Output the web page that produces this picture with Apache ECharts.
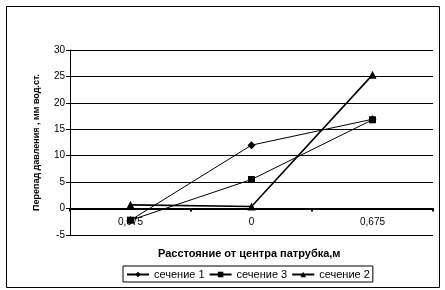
<!DOCTYPE html>
<html>
<head>
<meta charset="utf-8">
<script src="https://cdn.jsdelivr.net/npm/echarts@6/dist/echarts.min.js"></script>
<style>html,body{margin:0;padding:0;background:#fff}#c{width:445px;height:290px}</style>
</head>
<body>
<div id="c"></div>
<script>
var categories = ["0,675", "0", "0,675"];
var sec1 = [-2.2, 12, 16.9];
var sec3 = [-2.2, 5.5, 16.8];
var sec2 = [0.7, 0.4, 25.3];
var yTicks = [-5, 0, 5, 10, 15, 20, 25, 30];
var seriesNames = ["сечение 1", "сечение 3", "сечение 2"];
var xTitle = 'Расстояние от центра патрубка,м';
var yTitle = 'Перепад давления , мм вод.ст.';

var chart = echarts.init(document.getElementById('c'), null, {renderer: 'canvas'});
var font = 'Arial, "Liberation Sans", sans-serif';
var gridTop = 50, gridBottom = 55, H = 290;
var plotH = H - gridTop - gridBottom;
var yMin = yTicks[0], yMax = yTicks[yTicks.length - 1];
var zeroOffset = -plotH * (0 - yMin) / (yMax - yMin);
chart.setOption({
  backgroundColor: '#fff',
  animation: false,
  title: {
    text: xTitle, left: 153, top: 243,
    textStyle: {fontFamily: font, fontSize: 11, fontWeight: 'bold', color: '#000'}
  },
  graphic: [{
    type: 'rect', left: 4, top: 4, z: -1,
    shape: {width: 433, height: 281},
    style: {fill: 'none', stroke: '#000', lineWidth: 1}
  }],
  grid: {left: 70, right: 12, top: gridTop, bottom: gridBottom, containLabel: false},
  xAxis: {
    type: 'category',
    data: categories,
    boundaryGap: true,
    offset: zeroOffset,
    axisLine: {onZero: false, lineStyle: {color: '#000', width: 2}},
    axisTick: {show: true, length: 3, lineStyle: {color: '#000', width: 2}},
    axisLabel: {fontFamily: font, fontSize: 10, color: '#000', margin: 9},
    splitLine: {show: false}
  },
  yAxis: {
    type: 'value',
    min: yMin, max: yMax, interval: 5,
    name: yTitle,
    nameLocation: 'middle',
    nameGap: 29,
    nameTextStyle: {fontFamily: font, fontSize: 9, fontWeight: 'bold', color: '#000'},
    axisLine: {show: true, lineStyle: {color: '#000', width: 1}},
    axisTick: {show: true, length: 4, lineStyle: {color: '#000'}},
    axisLabel: {fontFamily: font, fontSize: 10, color: '#000', margin: 5},
    splitLine: {show: true, lineStyle: {color: '#000', width: 1}}
  },
  legend: {
    data: seriesNames,
    left: 123, top: 266,
    padding: [3, 3, 2, 3],
    itemGap: 4,
    itemWidth: 22, itemHeight: 7,
    borderColor: '#000', borderWidth: 1, borderRadius: 0,
    textStyle: {fontFamily: font, fontSize: 11, color: '#000'}
  },
  series: [
    {name: seriesNames[0], type: 'line', data: sec1, symbol: 'diamond', symbolSize: 8,
     lineStyle: {color: '#000', width: 1}, itemStyle: {color: '#000'}, z: 3},
    {name: seriesNames[1], type: 'line', data: sec3, symbol: 'rect', symbolSize: 7,
     lineStyle: {color: '#000', width: 1}, itemStyle: {color: '#000'}, z: 4},
    {name: seriesNames[2], type: 'line', data: sec2, symbol: 'triangle', symbolSize: 8,
     lineStyle: {color: '#000', width: 1.6}, itemStyle: {color: '#000'}, z: 3}
  ]
});
</script>
</body>
</html>
